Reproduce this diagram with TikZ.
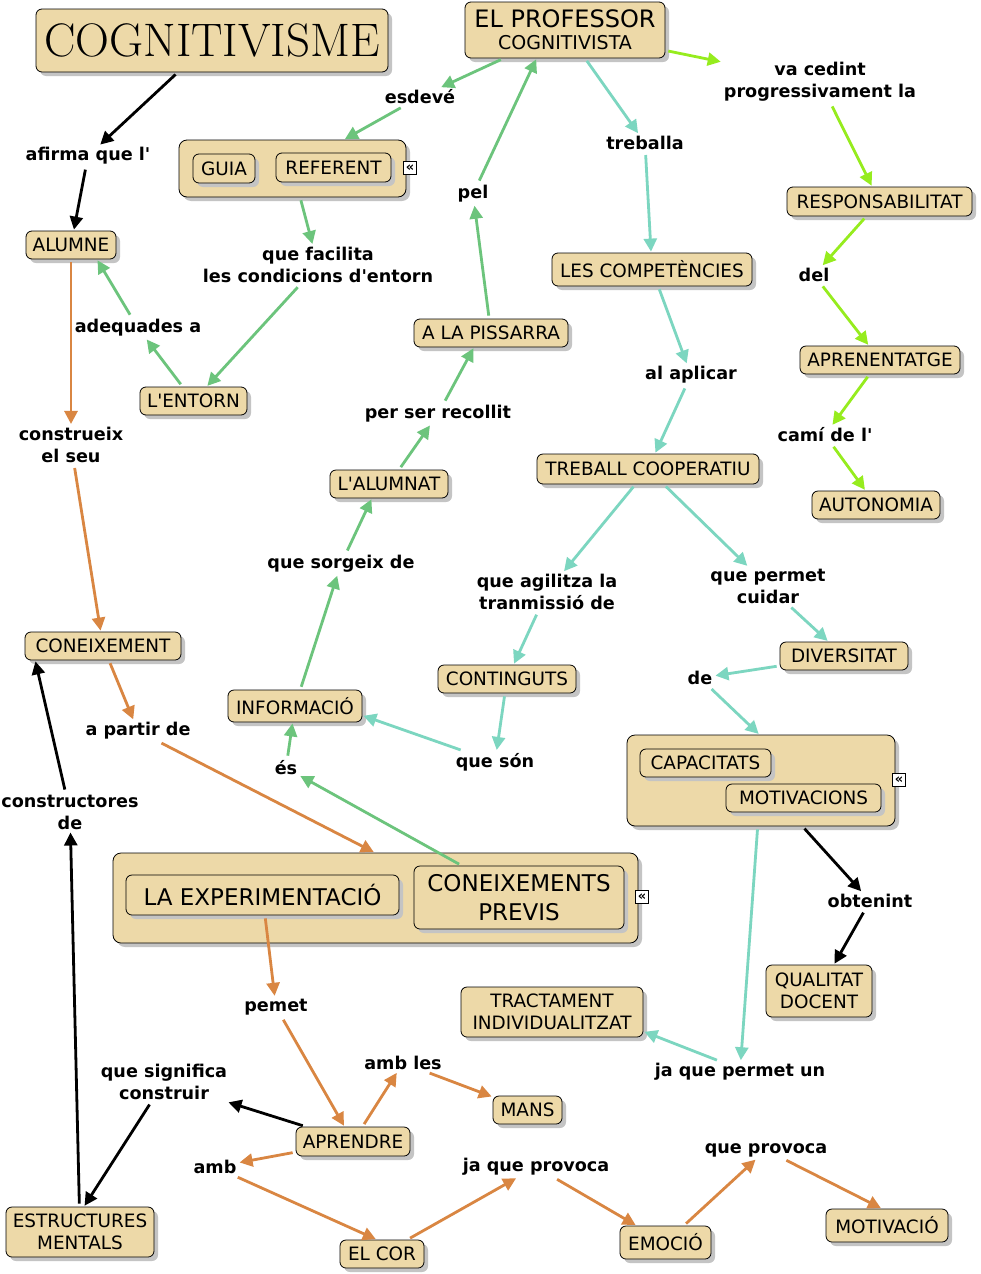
\documentclass[tikz,border=0pt]{standalone}
\usepackage{fontspec}
\newfontfamily\dejavu{DejaVu Sans}
\usetikzlibrary{arrows.meta,shadows}
\definecolor{tanc}{RGB}{237,217,168}
\definecolor{shadowc}{RGB}{196,196,196}
\definecolor{gline}{RGB}{108,196,124}
\definecolor{tline}{RGB}{124,214,192}
\definecolor{lline}{RGB}{150,236,30}
\definecolor{oline}{RGB}{217,134,66}
\newcommand{\cfont}{\dejavu\fontsize{18.4}{22}\selectfont}
\newcommand{\lfont}{\dejavu\bfseries\fontsize{17.6}{22}\selectfont}
\tikzset{
  concept/.style={draw=black, line width=0.8pt, rounded corners=6pt, fill=tanc,
    inner sep=2pt, align=center, font=\cfont,
    drop shadow={shadow xshift=4pt, shadow yshift=-4pt, fill=shadowc, opacity=1}},
  grp/.style={concept, rounded corners=8pt},
  lbl/.style={inner sep=2pt, align=center, font=\lfont},
  icon/.style={draw=black, fill=white, line width=0.7pt, inner sep=0pt,
    minimum size=13pt, font=\dejavu\bfseries\fontsize{13}{13}\selectfont},
  conn/.style={line width=2.8pt, -{Triangle[length=13pt,width=13pt]},
    shorten <=3pt, shorten >=1pt},
  cb/.style={conn, draw=black},
  cg/.style={conn, draw=gline, fill=gline},
  ct/.style={conn, draw=tline, fill=tline},
  cl/.style={conn, draw=lline, fill=lline},
  co/.style={conn, draw=oline, fill=oline},
}
\begin{document}
\begin{tikzpicture}[x=1pt,y=-1pt]
\useasboundingbox[fill=white] (0,0) rectangle (980,1274);

% ---- concepts ----
\node[concept, minimum width=352pt, minimum height=63pt, font=\rmfamily\fontsize{47}{47}\selectfont] (cogn) at (212,40.5) {COGNITIVISME};
\node[concept, minimum width=200pt, minimum height=56pt, inner sep=1pt] (prof) at (565,30) {\fontsize{24}{25}\selectfont EL PROFESSOR\\\fontsize{19}{21}\selectfont COGNITIVISTA};

\node[grp, minimum width=227pt, minimum height=57pt] (guiagrp) at (292.5,168.5) {};
\node[concept, minimum width=62pt, minimum height=29pt] (guia) at (224,168.5) {GUIA};
\node[concept, minimum width=115pt, minimum height=29pt] (referent) at (333.5,167.5) {REFERENT};
\node[icon] (ic1) at (410,168) {«};

\node[concept, minimum width=90pt, minimum height=28pt] (alumne) at (71,245) {ALUMNE};
\node[concept, minimum width=107pt, minimum height=28pt] (entorn) at (193.5,401) {L'ENTORN};
\node[concept, minimum width=154pt, minimum height=28pt] (pissarra) at (491,333) {A LA PISSARRA};
\node[concept, minimum width=118pt, minimum height=28pt] (alumnat) at (389,484) {L'ALUMNAT};
\node[concept, minimum width=200pt, minimum height=33pt] (compet) at (652,269.5) {LES COMPETÈNCIES};
\node[concept, minimum width=185pt, minimum height=29pt] (resp) at (879.5,201.5) {RESPONSABILITAT};
\node[concept, minimum width=160pt, minimum height=28pt] (apren) at (880,360) {APRENENTATGE};
\node[concept, minimum width=128pt, minimum height=28pt] (auton) at (876,505) {AUTONOMIA};
\node[concept, minimum width=222pt, minimum height=30pt] (treball) at (648,469) {TREBALL COOPERATIU};
\node[concept, minimum width=156pt, minimum height=28pt] (coneix) at (103,646) {CONEIXEMENT};
\node[concept, minimum width=134pt, minimum height=32pt] (info) at (295,706) {INFORMACIÓ};
\node[concept, minimum width=138pt, minimum height=28pt] (contin) at (507,679) {CONTINGUTS};
\node[concept, minimum width=128pt, minimum height=28pt] (divers) at (844,656) {DIVERSITAT};

\node[grp, minimum width=268pt, minimum height=91pt] (capgrp) at (761,780.5) {};
\node[concept, minimum width=131pt, minimum height=28pt] (capac) at (705.5,763) {CAPACITATS};
\node[concept, minimum width=155pt, minimum height=28pt] (motiv) at (803.5,798) {MOTIVACIONS};
\node[icon] (ic2) at (899,780) {«};

\node[grp, minimum width=525pt, minimum height=90pt] (expgrp) at (375.5,898) {};
\node[concept, minimum width=273pt, minimum height=40pt, font=\dejavu\fontsize{23}{28}\selectfont] (exper) at (262.5,895) {LA EXPERIMENTACIÓ};
\node[concept, minimum width=210pt, minimum height=63pt, font=\dejavu\fontsize{23}{29}\selectfont] (previs) at (519,897.5) {CONEIXEMENTS\\PREVIS};
\node[icon] (ic3) at (642,897) {«};

\node[concept, minimum width=106pt, minimum height=52pt] (qualitat) at (819,991) {QUALITAT\\DOCENT};
\node[concept, minimum width=182pt, minimum height=50pt] (tract) at (552,1012) {TRACTAMENT\\INDIVIDUALITZAT};
\node[concept, minimum width=69pt, minimum height=28pt] (mans) at (527.5,1110) {MANS};
\node[concept, minimum width=114pt, minimum height=29pt] (aprendre) at (353,1141.5) {APRENDRE};
\node[concept, minimum width=148pt, minimum height=50pt] (estruct) at (80,1232) {ESTRUCTURES\\MENTALS};
\node[concept, minimum width=84pt, minimum height=28pt] (cor) at (382,1254) {EL COR};
\node[concept, minimum width=91pt, minimum height=33pt] (emocio) at (665.5,1242.5) {EMOCIÓ};
\node[concept, minimum width=122pt, minimum height=33pt] (motivacio) at (887,1225.5) {MOTIVACIÓ};

% ---- linking phrases ----
\node[lbl] (afirma) at (88,156) {afirma que l'};
\node[lbl] (esdeve) at (420,97) {esdevé};
\node[lbl] (vaced) at (820,82) {va cedint\\progressivament la};
\node[lbl] (treballa) at (645,143) {treballa};
\node[lbl] (pel) at (473,194) {pel};
\node[lbl] (facil) at (318,265) {que facilita\\les condicions d'entorn};
\node[lbl] (adeq) at (138,328) {adequades a};
\node[lbl] (perser) at (438,414) {per ser recollit};
\node[lbl] (alaplic) at (691,375) {al aplicar};
\node[lbl] (del) at (814,275) {del};
\node[lbl] (cami) at (825,435) {camí de l'};
\node[lbl] (constr) at (71,445) {construeix\\el seu};
\node[lbl] (sorg) at (341,564) {que sorgeix de};
\node[lbl] (agil) at (547,592) {que agilitza la\\tranmissió de};
\node[lbl] (permet) at (768,586) {que permet\\cuidar};
\node[lbl] (de) at (700,678) {de};
\node[lbl] (apartir) at (138,731) {a partir de};
\node[lbl] (es) at (286,768) {és};
\node[lbl] (queson) at (495,762) {que són};
\node[lbl] (constrde) at (70,812) {constructores\\de};
\node[lbl] (obtenint) at (870,901) {obtenint};
\node[lbl] (pemet) at (276,1007) {pemet};
\node[lbl] (quesig) at (164,1082) {que significa\\construir};
\node[lbl] (ambles) at (403,1063) {amb les};
\node[lbl] (jaque) at (740,1072) {ja que permet un};
\node[lbl] (amb) at (215,1167) {amb};
\node[lbl] (japrov) at (536,1167) {ja que provoca};
\node[lbl] (queprov) at (766,1150) {que provoca};

% ---- connectors: black ----
\draw[cb] (cogn) -- (afirma);
\draw[cb] (afirma) -- (alumne);
\draw[cb] (capgrp) -- (obtenint);
\draw[cb] (obtenint) -- (qualitat);
\draw[cb] (aprendre) -- (quesig);
\draw[cb] (quesig) -- (estruct.81);
\draw[cb] (estruct) -- (constrde);
\draw[cb] (constrde) -- (coneix.192);

% ---- green ----
\draw[cg] (prof) -- (esdeve);
\draw[cg] (esdeve) -- (guiagrp);
\draw[cg] (pissarra) -- (pel);
\draw[cg] (pel) -- (prof.225);
\draw[cg] (guiagrp) -- (facil);
\draw[cg] (facil) -- (entorn);
\draw[cg] (entorn) -- (adeq);
\draw[cg] (adeq) -- (alumne.331);
\draw[cg] (alumnat) -- (perser);
\draw[cg] (perser) -- (pissarra.220);
\draw[cg] (info) -- (sorg);
\draw[cg] (sorg) -- (alumnat.220);
\draw[cg] (previs) -- (es);
\draw[cg] (es) -- (info);

% ---- teal ----
\draw[ct] (prof) -- (treballa);
\draw[ct] (treballa) -- (compet);
\draw[ct] (compet) -- (alaplic);
\draw[ct] (alaplic) -- (treball);
\draw[ct] (treball) -- (agil);
\draw[ct] (agil) -- (contin);
\draw[ct] (treball) -- (permet);
\draw[ct] (permet) -- (divers);
\draw[ct] (divers) -- (de);
\draw[ct] (de) -- (capgrp.92);
\draw[ct] (contin) -- (queson);
\draw[ct] (queson) -- (info.352);
\draw[ct] (capgrp) -- (jaque);
\draw[ct] (jaque.152) -- (tract.348);

% ---- lime ----
\draw[cl] (prof) -- (vaced);
\draw[cl] (vaced) -- (resp);
\draw[cl] (resp) -- (del);
\draw[cl] (del) -- (apren);
\draw[cl] (apren) -- (cami);
\draw[cl] (cami) -- (auton);

% ---- orange ----
\draw[co] (alumne) -- (constr);
\draw[co] (constr) -- (coneix);
\draw[co] (coneix) -- (apartir);
\draw[co] (apartir) -- (expgrp.91);
\draw[co] (exper) -- (pemet);
\draw[co] (pemet) -- (aprendre);
\draw[co] (aprendre) -- (ambles);
\draw[co] (ambles) -- (mans);
\draw[co] (aprendre) -- (amb);
\draw[co] (amb) -- (cor.110);
\draw[co] (cor) -- (japrov);
\draw[co] (japrov) -- (emocio);
\draw[co] (emocio) -- (queprov);
\draw[co] (queprov) -- (motivacio.107);
\end{tikzpicture}
\end{document}
